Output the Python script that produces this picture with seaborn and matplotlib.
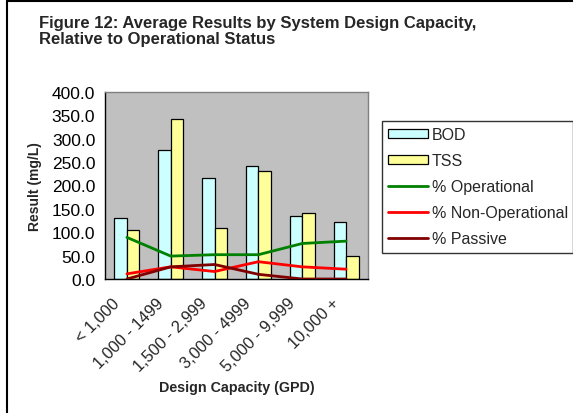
import numpy as np
import pandas as pd
import matplotlib
matplotlib.use("Agg")
import matplotlib.pyplot as plt
import matplotlib.transforms as mtransforms
from matplotlib.patches import Patch
from matplotlib.lines import Line2D
import seaborn as sns

categories = ["< 1,000", "1,000 - 1499", "1,500 - 2,999", "3,000 - 4999", "5,000 - 9,999", "10,000 +"]
bod = [130, 276, 216, 242, 134, 122]
tss = [104, 343, 109, 231, 141, 49]
pct_operational = [89, 49, 52, 52, 76, 81]
pct_non_operational = [11, 26, 16, 37, 26, 21]
pct_passive = [0, 26, 31, 10, 0, 0]
y_ticks = [0, 50, 100, 150, 200, 250, 300, 350, 400]

sns.set_theme(style="white")
plt.rcParams["font.family"] = ["Liberation Sans", "DejaVu Sans"]

W, H = 573, 414
fig = plt.figure(figsize=(W / 100, H / 100), dpi=100)
fig.patch.set_facecolor("white")

def fx(px):
    return px / W

def fy(py):
    return 1 - py / H

ax = fig.add_axes([fx(105), fy(280), fx(368) - fx(105), fy(93) - fy(280)])
ax.set_facecolor("#C0C0C0")

df = pd.DataFrame({
    "Design Capacity": categories * 2,
    "Result": bod + tss,
    "Measure": ["BOD"] * len(categories) + ["TSS"] * len(categories),
})
palette = {"BOD": "#CCFFFF", "TSS": "#FFFF99"}
sns.barplot(data=df, x="Design Capacity", y="Result", hue="Measure",
            palette=palette, width=0.572, gap=0, edgecolor="black",
            linewidth=0.9, saturation=1, legend=False, ax=ax, zorder=2)

xpos = np.arange(len(categories))
line_specs = [
    (pct_operational, "#008000", "% Operational"),
    (pct_non_operational, "#FF0000", "% Non-Operational"),
    (pct_passive, "#800000", "% Passive"),
]
for vals, color, label in line_specs:
    sns.lineplot(x=xpos, y=vals, color=color, linewidth=2.0, ax=ax,
                 zorder=3, legend=False)

ax.set_xlim(-0.5, len(categories) - 0.5)
ax.set_ylim(0, 400)
ax.set_yticks(y_ticks)
ax.set_yticklabels([f"{v:.1f}" for v in y_ticks], fontsize=12.5)

# category boundary ticks on the x axis, labels at centers
ax.set_xticks(np.arange(-0.5, len(categories)), minor=False)
ax.set_xticklabels([])
ax.set_xticks(xpos, minor=True)
ax.set_xticklabels(categories, minor=True, rotation=45, ha="right",
                   va="top", rotation_mode="anchor", fontsize=11.8)
ax.tick_params(axis="x", which="minor", length=0, pad=11.5)
ax.tick_params(axis="x", which="major", length=5, width=1, color="black", direction="out")
ax.tick_params(axis="y", length=5, width=1, color="black", direction="out", pad=2)
ax.tick_params(axis="both", colors="black")
shift = mtransforms.ScaledTranslation(-15 / 100, 0, fig.dpi_scale_trans)
for lbl in ax.get_xticklabels(minor=True):
    lbl.set_transform(lbl.get_transform() + shift)

ax.set_xlabel("")
ax.set_ylabel("")
for side in ["top", "right"]:
    ax.spines[side].set_visible(True)
    ax.spines[side].set_color("#808080")
    ax.spines[side].set_linewidth(1.0)
for side in ["left", "bottom"]:
    ax.spines[side].set_color("black")
    ax.spines[side].set_linewidth(1.0)

fig.text(fx(236.5), fy(388), "Design Capacity (GPD)", ha="center", va="center",
         fontsize=10.3, fontweight="bold")
fig.text(fx(35), fy(187), "Result (mg/L)", ha="center", va="center",
         rotation=90, fontsize=10, fontweight="bold")

fig.text(fx(39), fy(28), "Figure 12: Average Results by System Design Capacity,",
         ha="left", va="baseline", fontsize=12, fontweight="bold")
fig.text(fx(39), fy(44), "Relative to Operational Status",
         ha="left", va="baseline", fontsize=12, fontweight="bold")

handles = [
    Patch(facecolor="#CCFFFF", edgecolor="black", linewidth=0.9, label="BOD"),
    Patch(facecolor="#FFFF99", edgecolor="black", linewidth=0.9, label="TSS"),
] + [Line2D([0], [0], color=c, linewidth=2.0, label=l) for _, c, l in line_specs]
leg = fig.legend(handles=handles, loc="upper left",
                 bbox_to_anchor=(fx(382), fy(249), fx(573) - fx(382), fy(122) - fy(249)),
                 mode="expand", frameon=True, fancybox=False, fontsize=11.5,
                 handlelength=2.45, handleheight=0.45, handletextpad=0.25,
                 labelspacing=0.69, borderpad=0.4, borderaxespad=0)
leg.get_frame().set_edgecolor("black")
leg.get_frame().set_linewidth(1.0)

# outer chart frame (left and top edges visible)
fig.add_artist(Line2D([fx(7), fx(7)], [fy(2), 0], color="black", linewidth=1.5))
fig.add_artist(Line2D([fx(7), 1], [fy(2), fy(2)], color="black", linewidth=1.5))

fig.savefig("out.png", dpi=100)
